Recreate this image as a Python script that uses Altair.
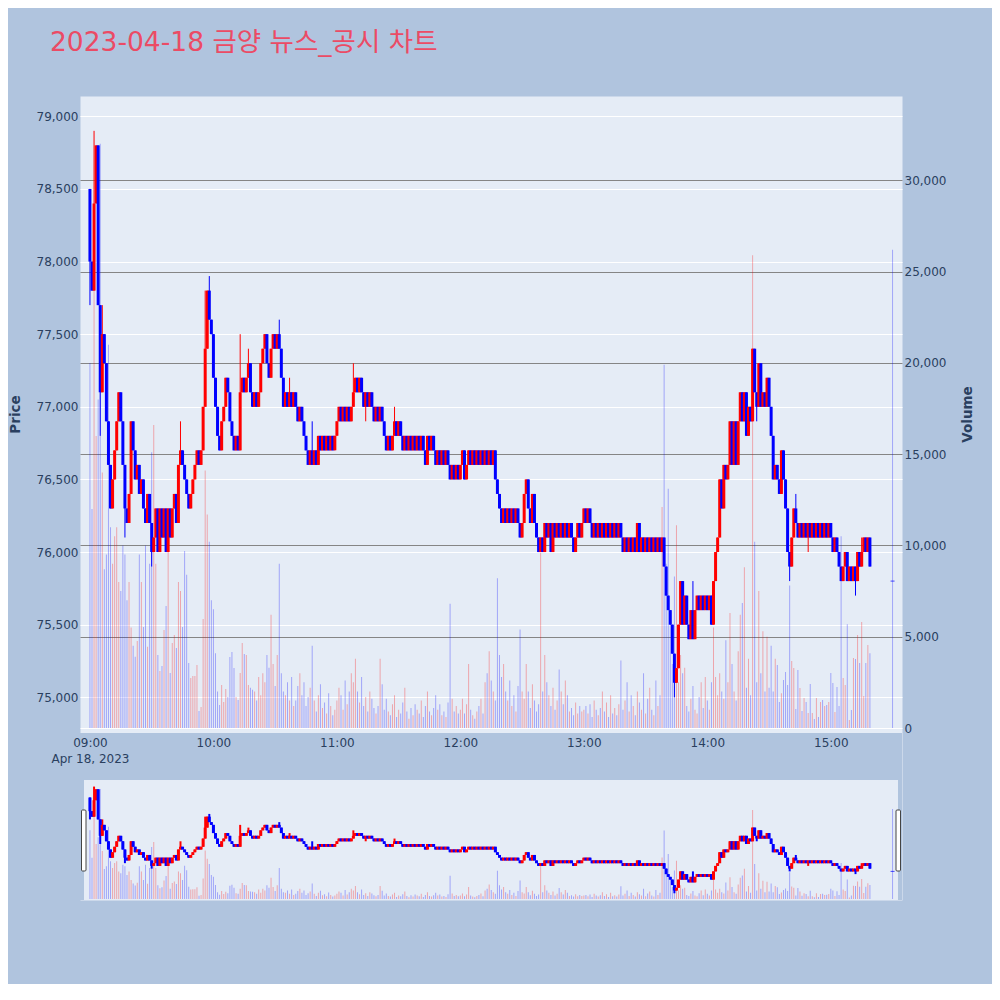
import json
import altair as alt
import pandas as pd

# ---------------- data ----------------
TITLE = "2023-04-18 금양 뉴스_공시 차트"
DATE_LABEL = "Apr 18, 2023"
TIME_TICKS = [0, 60, 120, 180, 240, 300, 360]          # minutes after 09:00
TIME_LABELS = ["09:00", "10:00", "11:00", "12:00", "13:00", "14:00", "15:00"]
PRICE_TICKS = [75000, 75500, 76000, 76500, 77000, 77500, 78000, 78500, 79000]
VOLUME_TICKS = [0, 5000, 10000, 15000, 20000, 25000, 30000]

TICK = 100              # prices below are in units of 100 KRW
FIRST_OPEN = 785
# minute closes 09:00 .. 15:19
CLOSE = [
    780, 778, 784, 788, 777, 771, 775, 773, 769, 766,
    763, 765, 767, 769, 771, 769, 766, 763, 762, 764,
    769, 767, 765, 766, 764, 765, 763, 762, 764, 762,
    760, 761, 763, 760, 763, 761, 763, 760, 763, 761,
    763, 764, 762, 766, 767, 766, 765, 764, 763, 764,
    765, 766, 767, 766, 767, 770, 774, 778, 776, 775,
    772, 770, 768, 767, 769, 770, 772, 771, 769, 768,
    767, 768, 767, 771, 772, 771, 772, 773, 771, 770,
    771, 770, 771, 773, 774, 775, 773, 772, 774, 775,
    774, 775, 774, 772, 770, 771, 770, 771, 770, 771,
    770, 769, 770, 769, 768, 767, 766, 767, 766, 767,
    766, 768, 767, 768, 767, 768, 767, 768, 767, 768,
    769, 770, 769, 770, 769, 770, 769, 770, 771, 772,
    771, 772, 771, 770, 771, 770, 771, 770, 769, 770,
    769, 770, 769, 768, 767, 768, 767, 768, 769, 768,
    769, 768, 767, 768, 767, 768, 767, 768, 767, 768,
    767, 768, 767, 766, 768, 767, 768, 767, 766, 767,
    766, 767, 766, 767, 766, 765, 766, 765, 766, 765,
    766, 767, 765, 766, 767, 766, 767, 766, 767, 766,
    767, 766, 767, 766, 767, 766, 767, 765, 764, 763,
    762, 763, 762, 763, 762, 763, 762, 763, 762, 761,
    762, 764, 765, 763, 762, 764, 762, 761, 760, 761,
    760, 762, 761, 762, 760, 762, 761, 762, 761, 762,
    761, 762, 761, 762, 761, 760, 761, 762, 761, 762,
    763, 762, 763, 762, 761, 762, 761, 762, 761, 762,
    761, 762, 761, 762, 761, 762, 761, 762, 761, 760,
    761, 760, 761, 760, 761, 760, 762, 760, 761, 760,
    761, 760, 761, 760, 761, 760, 761, 760, 761, 759,
    757, 756, 755, 753, 751, 752, 755, 758, 755, 757,
    755, 754, 756, 754, 756, 757, 756, 757, 756, 757,
    756, 757, 755, 758, 760, 761, 765, 763, 766, 765,
    766, 769, 766, 769, 766, 769, 771, 769, 771, 768,
    770, 769, 774, 771, 770, 773, 770, 771, 770, 772,
    770, 768, 765, 766, 765, 764, 767, 765, 763, 760,
    759, 761, 763, 762, 761, 762, 761, 762, 761, 762,
    761, 762, 761, 762, 761, 762, 761, 762, 761, 762,
    761, 760, 761, 760, 759, 758, 759, 760, 758, 759,
    758, 759, 758, 760, 759, 760, 761, 760, 761, 759,
]
AUCTION_MINUTE = 390     # 15:30 closing auction
AUCTION_PRICE = 758

# visible wicks
HIGH_AT = [0, 2, 3, 6, 44, 56, 58, 73, 77, 92, 97, 108, 128, 148, 293, 307, 323, 343, 375]
HIGH_VAL = [785, 789, 788, 777, 769, 778, 779, 775, 774, 776, 772, 769, 773, 770, 758, 765, 773, 764, 761]
LOW_AT = [0, 5, 17, 30, 134, 284, 324, 340, 349, 372]
LOW_VAL = [777, 768, 761, 759, 769, 750, 769, 758, 760, 757]

VOLUME = [
    20000, 12000, 28500, 16000, 18000, 32000, 14000, 8700, 9500, 21000, 11000, 9000, 10500, 11000, 8000, 7500, 10000, 9500, 7000, 8000,
    5500, 4500, 3900, 4760, 9500, 8000, 5530, 10000, 4450, 9000, 15100, 16600, 9000, 4000, 3120, 3400, 5370, 6680, 10800, 3010,
    4650, 5090, 4380, 8000, 7500, 5530, 9700, 8400, 3560, 2740, 2850, 2850, 3450, 930, 1150, 5970, 14100, 11700, 10200, 7000,
    6500, 4100, 2000, 1260, 2350, 1420, 2130, 1700, 3890, 4160, 3280, 1700, 1530, 3010, 4650, 4050, 4000, 2350, 2200, 2100,
    2000, 1500, 2800, 1800, 3000, 2500, 4000, 3300, 6200, 3500, 2300, 4000, 9000, 3000, 2000, 1800, 2500, 1500, 2800, 1200,
    1500, 2300, 3000, 1800, 2500, 1200, 1700, 2200, 4500, 1500, 900, 1800, 2400, 1100, 1400, 800, 1900, 1200, 700, 1000,
    1500, 2200, 1800, 1000, 2600, 1300, 2000, 3000, 2500, 3800, 2000, 1400, 2800, 1200, 1700, 900, 2000, 1600, 1100, 800,
    1200, 3800, 2400, 1000, 1600, 900, 700, 1300, 1800, 600, 1000, 800, 1400, 2200, 900, 500, 1100, 700, 1300, 1000,
    800, 1500, 600, 1200, 2000, 900, 700, 1100, 1800, 1000, 1300, 700, 900, 600, 1400, 6800, 1600, 900, 1200, 800,
    1000, 1600, 800, 1300, 3500, 1000, 700, 500, 900, 1200, 1600, 800, 2500, 3000, 4200, 2600, 2000, 1500, 8200, 4000,
    2800, 3500, 2000, 1500, 2600, 1200, 1800, 900, 2300, 5400, 2000, 1600, 3500, 2000, 1100, 2400, 1500, 900, 1300, 9600,
    2000, 4000, 2500, 1800, 1200, 2200, 1000, 1500, 3200, 2000, 1300, 2600, 1800, 900, 1100, 700, 1400, 800, 1200, 900,
    1000, 1200, 800, 1300, 600, 1500, 1000, 700, 1100, 2000, 900, 1400, 600, 1800, 800, 1100, 700, 1300, 3700, 1000,
    1500, 2500, 900, 1800, 1200, 700, 2000, 1400, 1000, 3000, 800, 1600, 2200, 1000, 700, 2600, 1200, 1800, 12100, 19900,
    9000, 13100, 6000, 3500, 8300, 11100, 2500, 4000, 3000, 3300, 1200, 900, 1600, 2300, 1000, 800, 1700, 2500, 1100, 2800,
    1500, 1000, 2500, 5500, 2800, 1800, 3000, 2000, 1600, 4800, 2500, 6300, 3500, 2000, 1500, 4200, 6200, 6850, 8800, 2200,
    3800, 1800, 25900, 10200, 2500, 7500, 3000, 5300, 2000, 5000, 2200, 4500, 2000, 3800,
    3450, 1420, 1900, 2630, 3070, 2350, 7800, 3670, 3290, 1040, 3180, 2190, 930, 1640, 1420, 820, 2410, 820, 490, 1640,
    600, 1420, 1530, 1200, 1260, 1420, 3010, 2460, 880, 2250, 1200, 10500, 2740, 2350, 5690, 440, 990, 3830, 3780, 5090,
    3560, 5800, 1750, 3560, 4550, 4100,
    26200,
]
assert len(CLOSE) == 380, len(CLOSE)
assert len(VOLUME) == 381, len(VOLUME)

# ---------------- table ----------------
rows = []
hi_map = dict(zip(HIGH_AT, HIGH_VAL))
lo_map = dict(zip(LOW_AT, LOW_VAL))
prev = FIRST_OPEN
for i, c in enumerate(CLOSE):
    o = prev
    h = max(o, c, hi_map.get(i, c))
    l = min(o, c, lo_map.get(i, c))
    rows.append(dict(m=i, open=o * TICK, close=c * TICK, high=h * TICK, low=l * TICK,
                     vol=VOLUME[i], dir="up" if c > o else "down"))
    prev = c
rows.append(dict(m=AUCTION_MINUTE, open=AUCTION_PRICE * TICK, close=AUCTION_PRICE * TICK,
                 high=AUCTION_PRICE * TICK, low=AUCTION_PRICE * TICK,
                 vol=VOLUME[-1], dir="down"))
df = pd.DataFrame(rows)

# ---------------- layout constants ----------------
W, H = 822, 804
MAIN_H = 637
VOL_ZERO = 632
SL_TOP, SL_BOT, SL_VOL_ZERO = 684, 804, 803
X_DOMAIN = [-2.4, 392.16]
PRICE_DOMAIN = [74754, 79140]
VOL_DOMAIN = [0, 34620]
BG = "#B0C4DE"
PLOT_BG = "#E5ECF6"
FONT = "DejaVu Sans, Noto Sans CJK KR"
TXT = "#2a3f5f"

label_items = [json.dumps([TIME_LABELS[0], DATE_LABEL])] + [json.dumps(s) for s in TIME_LABELS[1:]]
label_expr = "[" + ",".join(label_items) + "][round(datum.value / 60)]"

x_axis = alt.Axis(values=TIME_TICKS, labelExpr=label_expr, title=None, grid=False,
                  offset=MAIN_H - H, labelPadding=4, labelLineHeight=16,
                  labelFlush=False, labelOverlap=False, zindex=1)
x_enc = alt.X("m:Q", scale=alt.Scale(domain=X_DOMAIN, nice=False, zero=False), axis=x_axis)
color_enc = alt.Color("dir:N", scale=alt.Scale(domain=["up", "down"], range=["#FF0000", "#0000FF"]),
                      legend=None)

price_axis = alt.Axis(orient="left", values=PRICE_TICKS, format=",d", grid=True, gridColor="white",
                      gridWidth=1, labelPadding=2, labelOverlap=False, title="Price",
                      titleAngle=270, titleX=-65, titleY=318, titleAlign="center",
                      titleBaseline="middle")
vol_axis = alt.Axis(orient="right", values=VOLUME_TICKS, format=",d", grid=True,
                    gridColor={"condition": {"test": "datum.value === 0", "value": "#ffffff"},
                               "value": "#858585"},
                    gridWidth=1, labelPadding=2, labelOverlap=False, title="Volume",
                    titleAngle=270, titleX=65, titleY=318, titleAlign="center",
                    titleBaseline="middle")

base = alt.Chart(df)


def price_layers(price_scale, axis, wick_w):
    wick = base.mark_rule(strokeWidth=wick_w).encode(
        x=x_enc, y=alt.Y("low:Q", scale=price_scale, axis=axis), y2="high:Q", color=color_enc)
    body = base.mark_bar(size=3, orient="vertical").encode(
        x=x_enc, y=alt.Y("open:Q", scale=price_scale, axis=None), y2="close:Q", color=color_enc)
    doji = base.transform_filter("datum.open == datum.close").mark_tick(
        orient="horizontal", size=4, thickness=1).encode(
        x=x_enc, y=alt.Y("close:Q", scale=price_scale, axis=None), color=color_enc)
    return [wick, body, doji]


def vol_layer(vol_scale, axis):
    return base.mark_bar(size=1, orient="vertical", opacity=0.3).encode(
        x=x_enc, y=alt.Y("vol:Q", scale=vol_scale, axis=axis), color=color_enc)


main_price = alt.Scale(domain=PRICE_DOMAIN, range=[MAIN_H, 0], nice=False, zero=False)
main_vol = alt.Scale(domain=VOL_DOMAIN, range=[VOL_ZERO, 0], nice=False)
sl_price = alt.Scale(domain=PRICE_DOMAIN, range=[SL_BOT, SL_TOP], nice=False, zero=False)
sl_vol = alt.Scale(domain=VOL_DOMAIN, range=[SL_VOL_ZERO, SL_TOP], nice=False)

deco = alt.Chart(pd.DataFrame({"k": [0]}))
gap = deco.mark_rect(color=BG).encode(x=alt.value(0), x2=alt.value(W),
                                      y=alt.value(MAIN_H), y2=alt.value(SL_TOP))
side_l = deco.mark_rect(color=BG).encode(x=alt.value(0), x2=alt.value(4),
                                         y=alt.value(SL_TOP), y2=alt.value(SL_BOT))
side_r = deco.mark_rect(color=BG).encode(x=alt.value(W - 4), x2=alt.value(W),
                                         y=alt.value(SL_TOP), y2=alt.value(SL_BOT))
handle_l = deco.mark_rect(fill="white", stroke="#444444", strokeWidth=1, cornerRadius=1).encode(
    x=alt.value(1.5), x2=alt.value(6), y=alt.value(SL_TOP + 30), y2=alt.value(SL_TOP + 91))
handle_r = deco.mark_rect(fill="white", stroke="#444444", strokeWidth=1, cornerRadius=1).encode(
    x=alt.value(W - 6), x2=alt.value(W - 1.5), y=alt.value(SL_TOP + 30), y2=alt.value(SL_TOP + 91))
title = deco.mark_text(align="left", baseline="alphabetic", fontSize=26.5, font=FONT,
                       color="#EB4B65").encode(x=alt.value(-30), y=alt.value(-45.5),
                                               text=alt.value(TITLE))

layers = (price_layers(main_price, price_axis, 1) + [vol_layer(main_vol, vol_axis)]
          + [vol_layer(sl_vol, None)] + price_layers(sl_price, None, 2)
          + [gap, side_l, side_r, handle_l, handle_r, title])

chart = alt.layer(*layers).resolve_scale(y="independent").resolve_axis(y="independent").properties(
    width=W, height=H,
    autosize=alt.AutoSizeParams(type="none"),
    padding={"left": 72, "top": 88, "right": 90, "bottom": 84},
    background=BG,
).configure_view(fill=PLOT_BG, stroke="transparent").configure_axis(
    labelFont=FONT, labelFontSize=12, labelColor=TXT,
    titleFont=FONT, titleFontSize=13.5, titleFontWeight="bold", titleColor=TXT,
    domain=False, ticks=False,
)

chart.save("out.html", embed_options={"renderer": "svg", "actions": False})
